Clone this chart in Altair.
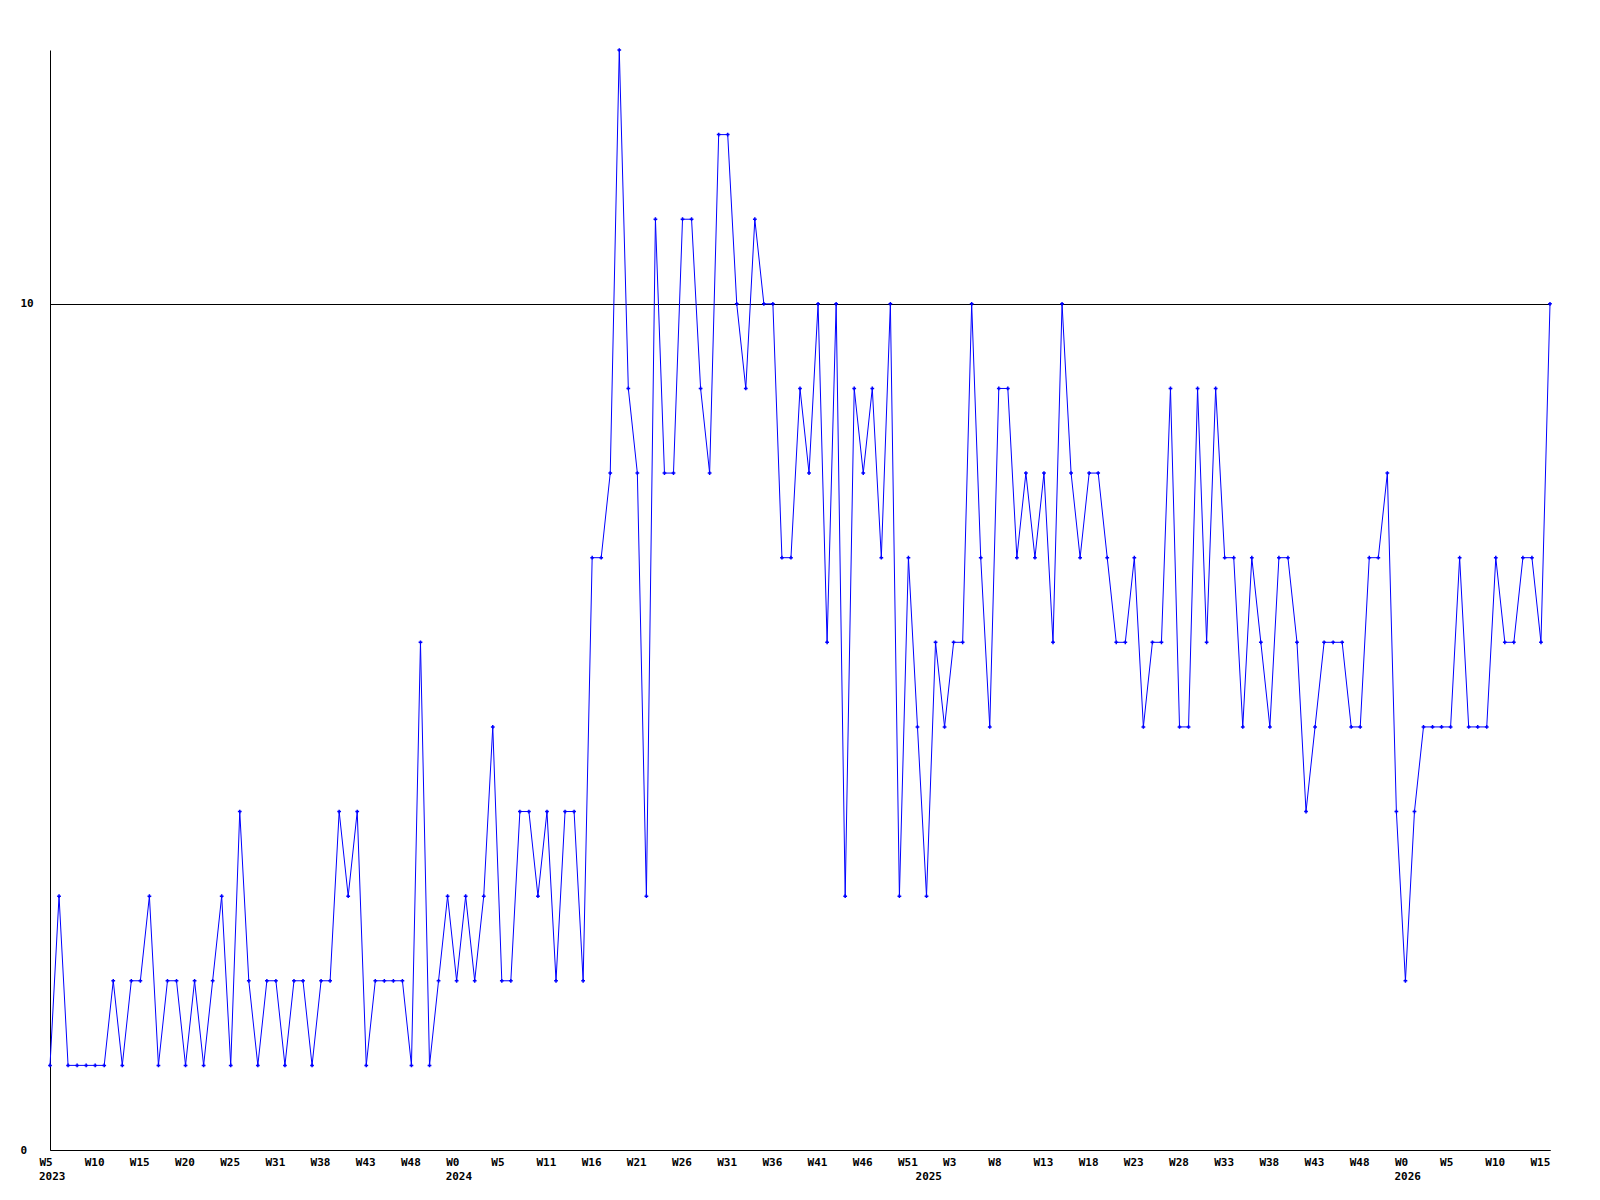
import altair as alt
import pandas as pd

# weekly values, one per point (index 0 = 2023 W5)
values = [
    1, 3, 1, 1, 1, 1, 1, 2, 1, 2, 2, 3, 1, 2, 2, 1, 2, 1, 2, 3, 1, 4, 2, 1, 2, 2, 1, 2,
    2, 1, 2, 2, 4, 3, 4, 1, 2, 2, 2, 2, 1, 6, 1, 2, 3, 2, 3, 2, 3, 5, 2, 2, 4, 4, 3, 4,
    2, 4, 4, 2, 7, 7, 8, 13, 9, 8, 3, 11, 8, 8, 11, 11, 9, 8, 12, 12, 10, 9, 11, 10, 10, 7, 7, 9,
    8, 10, 6, 10, 3, 9, 8, 9, 7, 10, 3, 7, 5, 3, 6, 5, 6, 6, 10, 7, 5, 9, 9, 7, 8, 7, 8,
    6, 10, 8, 7, 8, 8, 7, 6, 6, 7, 5, 6, 6, 9, 5, 5, 9, 6, 9, 7, 7, 5, 7, 6, 5, 7, 7, 6,
    4, 5, 6, 6, 6, 5, 5, 7, 7, 8, 4, 2, 4, 5, 5, 5, 5, 7, 5, 5, 5, 7, 6, 6, 7, 7, 6, 10,
]

tick_text = ["W5", "W10", "W15", "W20", "W25", "W31", "W38", "W43", "W48",
             "W0", "W5", "W11", "W16", "W21", "W26", "W31", "W36", "W41", "W46", "W51",
             "W3", "W8", "W13", "W18", "W23", "W28", "W33", "W38", "W43", "W48",
             "W0", "W5", "W10", "W15"]
tick_idx = list(range(0, 5 * len(tick_text), 5))

year_idx = [0, 45, 97, 150]
year_text = ["2023", "2024", "2025", "2026"]

FONT = "DejaVu Sans Mono"
W, H = 1500, 1100

df = pd.DataFrame({"idx": list(range(len(values))), "v": values})
ydf = pd.DataFrame({"idx": year_idx, "year": year_text})

label_arr = "[" + ",".join("'%s'" % t for t in tick_text) + "]"

x_enc = alt.X(
    "idx:Q",
    scale=alt.Scale(domain=[0, len(values) - 1], nice=False, zero=False),
    axis=alt.Axis(
        values=tick_idx,
        labelExpr=label_arr + "[round(datum.value/5)]",
        title=None,
        grid=False,
        ticks=False,
        tickSize=0,
        domainColor="black",
        domainWidth=1,
        labelAlign="left",
        labelBaseline="middle",
        labelOffset=-11,
        labelPadding=12,
        labelFont=FONT,
        labelFontWeight="bold",
        labelFontSize=11,
        labelColor="black",
        labelOverlap=False,
        labelFlush=False,
        labelBound=False,
    ),
)

y_enc = alt.Y(
    "v:Q",
    scale=alt.Scale(domain=[0, 13], nice=False),
    axis=alt.Axis(
        values=[0, 10],
        title=None,
        grid=True,
        gridColor="black",
        gridOpacity=1,
        gridWidth=1,
        ticks=False,
        tickSize=0,
        domainColor="black",
        domainWidth=1,
        labelAlign="left",
        labelBaseline="middle",
        labelPadding=30,
        labelFont=FONT,
        labelFontWeight="bold",
        labelFontSize=11,
        labelColor="black",
    ),
)

line = alt.Chart(df).mark_line(color="#0000ff", strokeWidth=1).encode(x=x_enc, y=y_enc)
pts = alt.Chart(df).mark_point(
    shape="cross", filled=True, size=14, color="#0000ff", opacity=1
).encode(x=x_enc, y=y_enc)

years = alt.Chart(ydf).mark_text(
    align="left", baseline="middle", dx=-11, font=FONT, fontWeight="bold",
    fontSize=11, color="black"
).encode(x=alt.X("idx:Q"), y=alt.value(H + 26.5), text="year:N")

chart = alt.layer(line, pts, years).properties(
    width=W,
    height=H,
    autosize="none",
    padding={"left": 42, "top": 42, "right": 30, "bottom": 40},
    background="white",
).configure_view(stroke=None)

chart.save("out.html", embed_options={"renderer": "svg", "actions": False})
